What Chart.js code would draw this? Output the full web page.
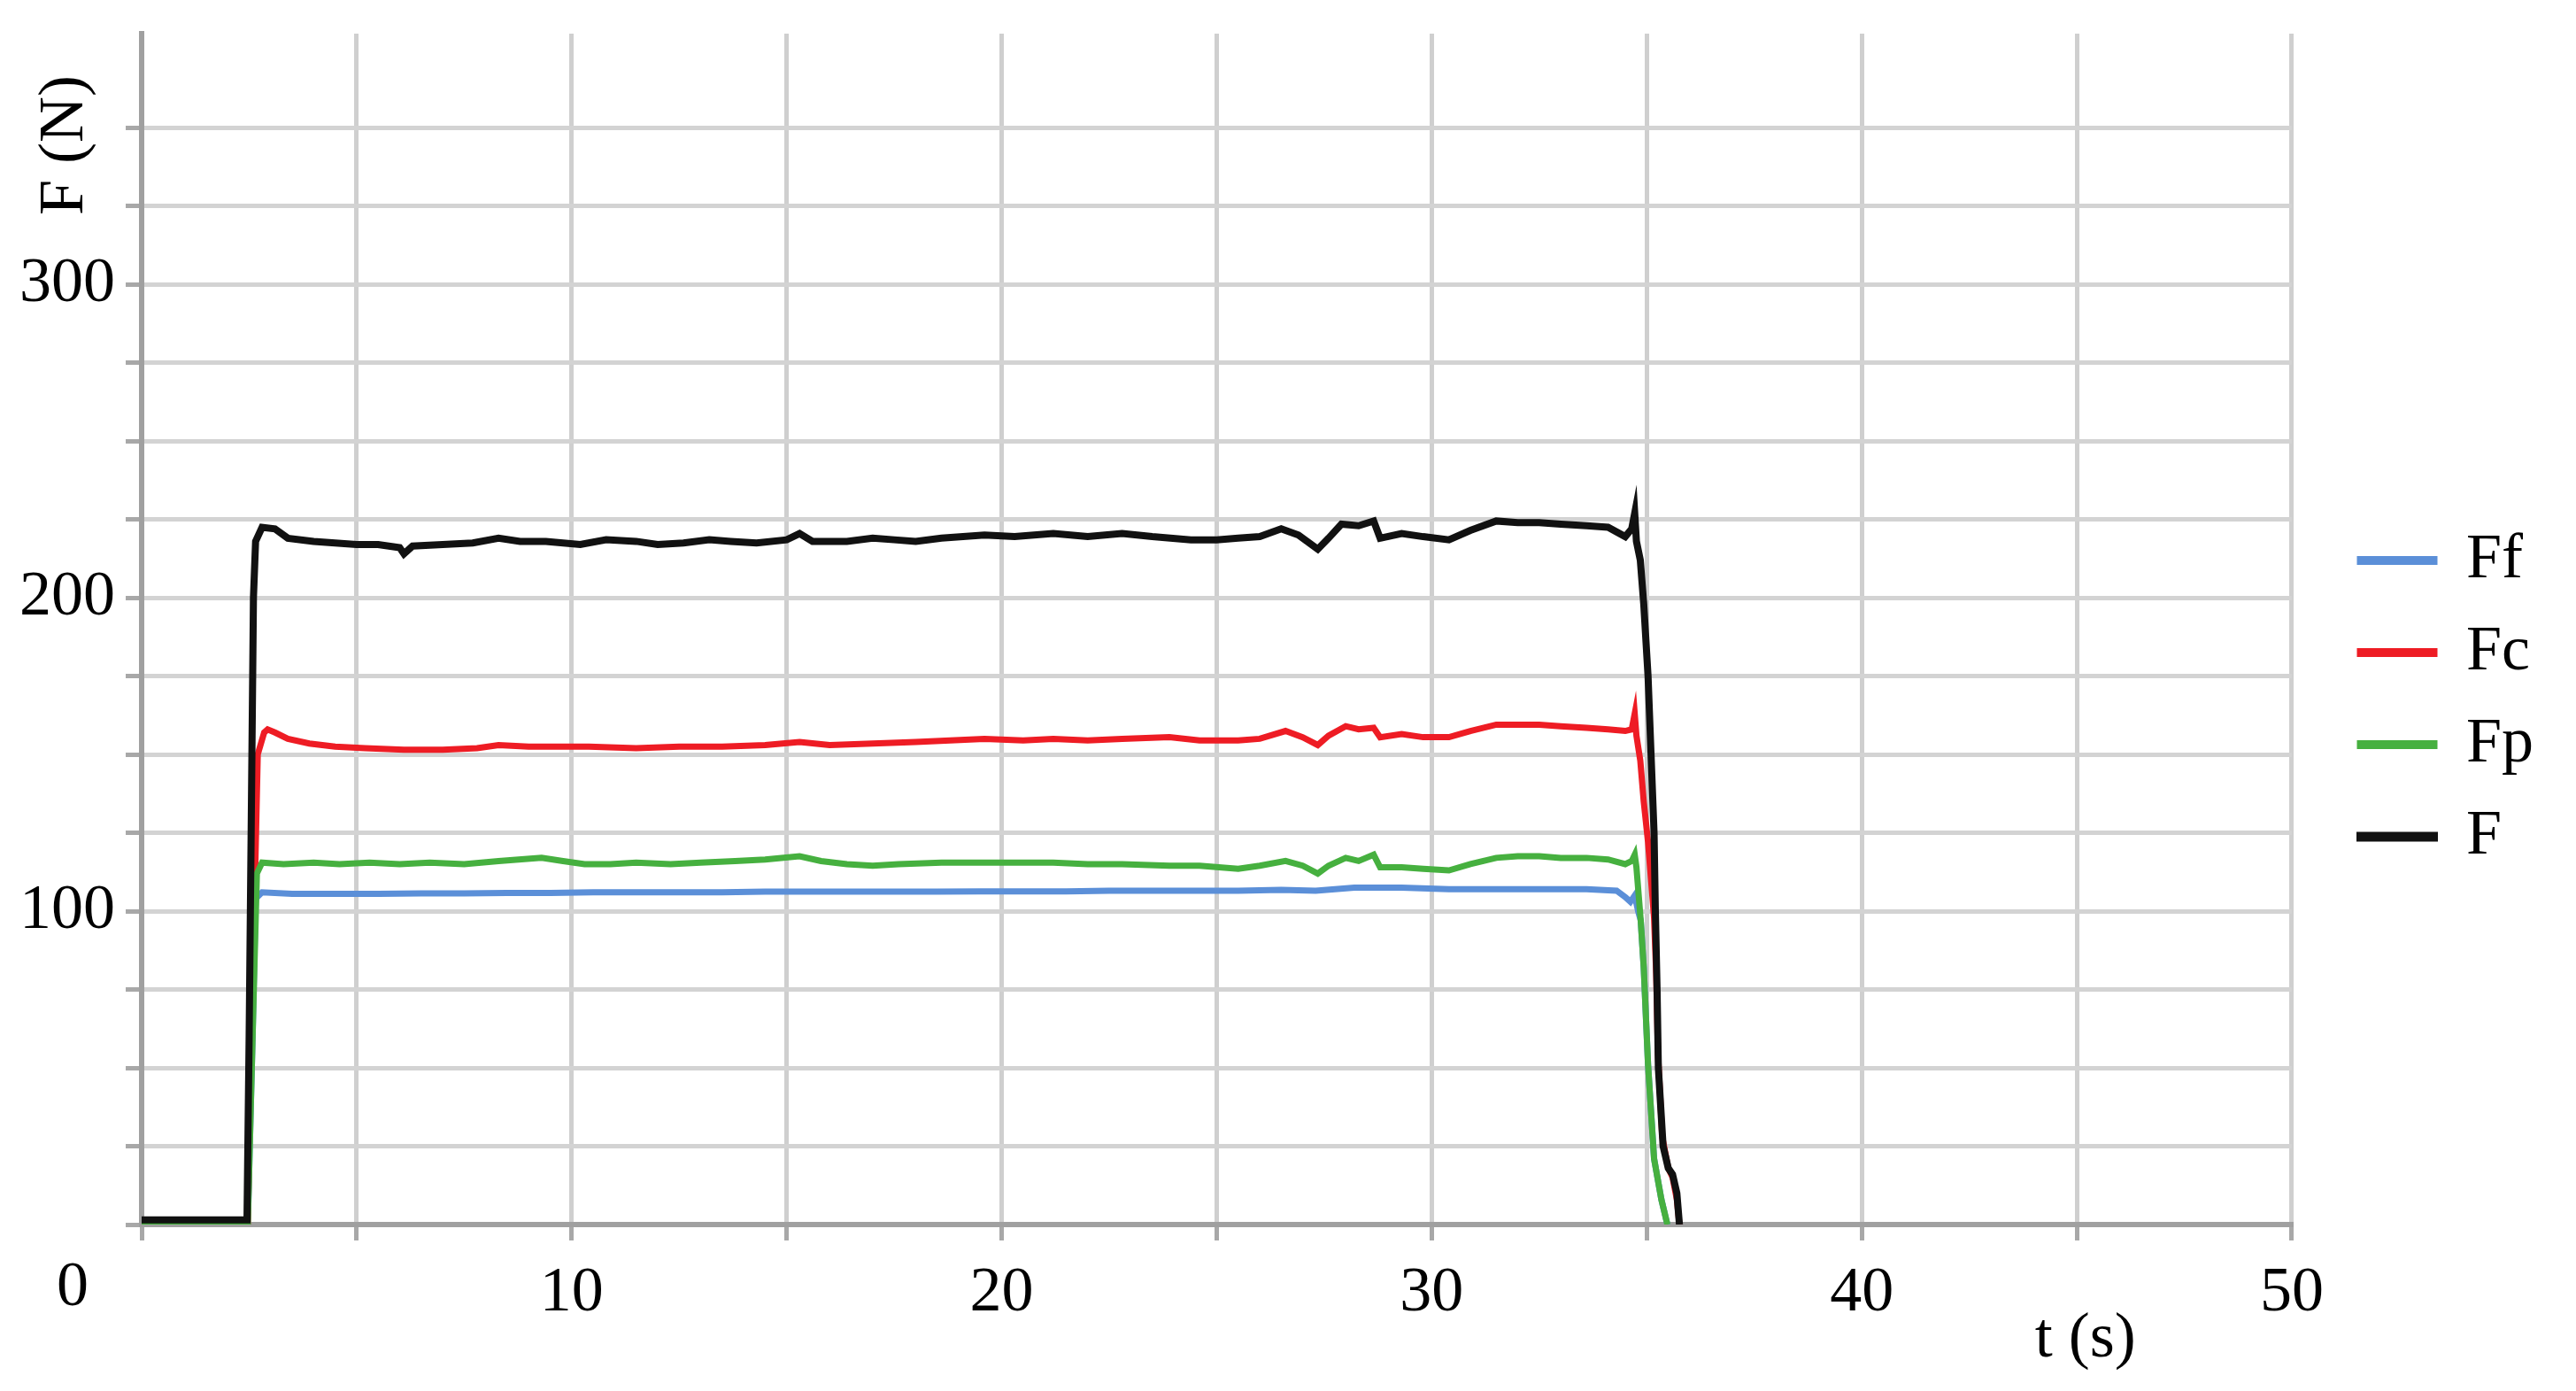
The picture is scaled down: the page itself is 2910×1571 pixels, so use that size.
<!DOCTYPE html>
<html lang="en">
<head>
<meta charset="UTF-8">
<title>F (N) vs t (s)</title>
<style>
    body { margin: 0; background: #ffffff; }
    #wrap { width: 2910px; height: 1571px; }
</style>
</head>
<body>
<div id="wrap"><canvas id="forceChart" width="2910" height="1571"></canvas></div>
<script src="https://cdn.jsdelivr.net/npm/chart.js"></script>
<script>
// values: time (s) and force (N) per series
const tFf = [0, 2.47, 2.58, 2.65, 2.8, 3.5, 4.5, 5.5, 6.5, 7.5, 8.5, 9.5, 10.5, 11.5, 12.5, 13.5, 14.5, 15.5, 16.5, 17.5, 18.5, 19.5, 20.5, 21.5, 22.5, 23.5, 24.5, 25.5, 26.5, 27.3, 28.2, 29.3, 30.4, 31.5, 32.5, 33.6, 34.3, 34.5, 34.62, 34.72, 34.8, 34.86, 34.93, 35.03, 35.17, 35.34, 35.48];
const Ff = [1, 1, 60, 104, 106, 105.5, 105.5, 105.5, 105.7, 105.7, 105.8, 105.8, 106, 106, 106, 106, 106.2, 106.2, 106.2, 106.2, 106.2, 106.3, 106.3, 106.3, 106.5, 106.5, 106.5, 106.5, 106.8, 106.5, 107.5, 107.5, 107, 107, 107, 107, 106.5, 104.5, 103, 105, 100, 97, 82, 51, 21, 8, 0];

const tFc = [0, 2.47, 2.55, 2.62, 2.7, 2.85, 2.93, 3.1, 3.4, 3.9, 4.5, 5.2, 6.1, 7.0, 7.8, 8.3, 9.0, 10.4, 11.5, 12.5, 13.5, 14.5, 15.3, 16.0, 17.0, 18.0, 18.8, 19.6, 20.5, 21.2, 22.0, 22.8, 23.9, 24.6, 25.5, 26.0, 26.6, 27.0, 27.35, 27.6, 28.0, 28.3, 28.65, 28.8, 29.3, 29.8, 30.4, 30.9, 31.5, 32.0, 32.5, 33.0, 33.6, 34.1, 34.5, 34.65, 34.72, 34.76, 34.85, 34.93, 35.03, 35.1, 35.17, 35.22, 35.26, 35.36, 35.5, 35.6, 35.7, 35.76];
const Fc = [1, 1, 60, 100, 150, 157, 158, 157, 155, 153.5, 152.5, 152, 151.5, 151.5, 152, 153, 152.5, 152.5, 152, 152.5, 152.5, 153, 154, 153, 153.5, 154, 154.5, 155, 154.5, 155, 154.5, 155, 155.5, 154.5, 154.5, 155, 157.5, 155.5, 153, 156, 159, 158, 158.5, 155.5, 156.5, 155.5, 155.5, 157.5, 159.5, 159.5, 159.5, 159, 158.5, 158, 157.5, 158, 163, 156, 148, 135, 122, 110, 98, 80, 55, 28, 18, 15, 8, 0];

const tFp = [0, 2.47, 2.58, 2.68, 2.8, 3.3, 4.0, 4.6, 5.3, 6.0, 6.7, 7.5, 8.3, 9.3, 9.8, 10.3, 10.9, 11.5, 12.3, 13.0, 13.8, 14.5, 15.3, 15.8, 16.4, 17.0, 17.6, 18.6, 19.5, 20.5, 21.2, 22.0, 22.8, 23.9, 24.6, 25.5, 26.0, 26.6, 27.0, 27.35, 27.6, 28.0, 28.3, 28.65, 28.8, 29.3, 29.8, 30.4, 30.9, 31.5, 32.0, 32.5, 33.0, 33.6, 34.1, 34.5, 34.65, 34.72, 34.76, 34.86, 34.93, 35.03, 35.17, 35.34, 35.48];
const Fp = [1, 1, 60, 112, 115.5, 115, 115.5, 115, 115.5, 115, 115.5, 115, 116, 117, 116, 115, 115, 115.5, 115, 115.5, 116, 116.5, 117.5, 116, 115, 114.5, 115, 115.5, 115.5, 115.5, 115.5, 115, 115, 114.5, 114.5, 113.5, 114.5, 116, 114.5, 112, 114.5, 117, 116, 118, 114, 114, 113.5, 113, 115, 117, 117.5, 117.5, 117, 117, 116.5, 115, 116, 118, 114, 97, 82, 51, 21, 8, 0];

const tF = [0, 2.45, 2.5, 2.55, 2.6, 2.65, 2.8, 3.1, 3.4, 4.0, 4.5, 5.0, 5.5, 6.0, 6.1, 6.3, 7.0, 7.7, 8.3, 8.8, 9.4, 10.2, 10.8, 11.5, 12.0, 12.6, 13.2, 13.7, 14.3, 15.0, 15.3, 15.6, 16.4, 17.0, 17.5, 18.0, 18.6, 19.6, 20.3, 21.2, 22.0, 22.8, 23.5, 24.4, 25.0, 25.5, 26.0, 26.5, 26.9, 27.35, 27.6, 27.9, 28.3, 28.65, 28.8, 29.3, 29.8, 30.4, 30.9, 31.5, 32.0, 32.5, 33.0, 33.6, 34.1, 34.5, 34.65, 34.72, 34.76, 34.85, 34.93, 35.03, 35.1, 35.17, 35.2, 35.24, 35.27, 35.38, 35.5, 35.6, 35.7, 35.76];
const F = [1.5, 1.5, 60, 130, 200, 218, 222.5, 222, 219, 218, 217.5, 217, 217, 216, 214, 216.5, 217, 217.5, 219, 218, 218, 217, 218.5, 218, 217, 217.5, 218.5, 218, 217.5, 218.5, 220.5, 218, 218, 219, 218.5, 218, 219, 220, 219.5, 220.5, 219.5, 220.5, 219.5, 218.5, 218.5, 219, 219.5, 222, 220, 215.5, 219, 223.5, 223, 224.5, 219, 220.5, 219.5, 218.5, 221.5, 224.5, 224, 224, 223.5, 223, 222.5, 219.5, 222, 227, 218, 212, 198, 175, 150, 125, 100, 75, 50, 25, 18, 16, 10, 0];

const seriesNames = ['Ff', 'Fc', 'Fp', 'F'];
const xLabelled = [10, 20, 30, 40, 50];
const yLabelled = [100, 200, 300];

// look
const SERIF = '"Liberation Serif", "Times New Roman", serif';
const FONT_PX = 72;
const LEGEND_X = 2666;      // start of the first legend line sample
const LEGEND_ROW0 = 633;    // centre of the first legend row

function pts(ts, vs) {
    return ts.map((t, i) => ({ x: t, y: vs[i] }));
}

const extras = {
    id: 'extras',
    afterLayout(chart) {
        const lg = chart.legend;
        if (!lg) return;
        const pad = lg.options.labels.padding;
        const left = LEGEND_X - pad;
        const top = LEGEND_ROW0 - pad - FONT_PX / 2;
        lg.left = left; lg.right = left + lg.width;
        lg.top = top; lg.bottom = top + lg.height;
    },
    afterDraw(chart) {
        const ctx = chart.ctx;
        const xs = chart.scales.x;
        ctx.save();
        ctx.fillStyle = '#000';
        ctx.font = FONT_PX + 'px ' + SERIF;
        ctx.textAlign = 'center';
        ctx.textBaseline = 'middle';
        // origin label sits left of the axis
        ctx.fillText('0', xs.getPixelForValue(0) - 78, 1455);
        // x title
        ctx.fillText('t (s)', xs.getPixelForValue(45.2), 1513);
        // y title, rotated, near the top
        ctx.translate(74, 164);
        ctx.rotate(-Math.PI / 2);
        ctx.fillText('F (N)', 0, 0);
        ctx.restore();
    }
};

const colors = ['#5b8fd8', '#ee1c24', '#46b03f', '#111111'];
const widths = [7, 7, 7, 8];
const seriesPts = [pts(tFf, Ff), pts(tFc, Fc), pts(tFp, Fp), pts(tF, F)];

new Chart(document.getElementById('forceChart'), {
    type: 'line',
    data: {
        datasets: seriesNames.map((name, i) => ({
            label: name,
            data: seriesPts[i],
            borderColor: colors[i],
            backgroundColor: colors[i],
            borderWidth: widths[i],
            pointRadius: 0,
            tension: 0,
            order: 3 - i
        }))
    },
    options: {
        responsive: false,
        animation: false,
        layout: { padding: { top: 38, right: 83, left: 0, bottom: 0 } },
        plugins: {
            legend: {
                position: 'right',
                align: 'start',
                labels: {
                    boxWidth: 84,
                    boxHeight: 3,
                    padding: 32,
                    color: '#000',
                    font: { family: SERIF, size: FONT_PX },
                    sort: (a, b) => a.datasetIndex - b.datasetIndex
                }
            },
            tooltip: { enabled: false }
        },
        scales: {
            x: {
                type: 'linear',
                min: 0,
                max: 50,
                afterFit(scale) { scale.height = 188; scale.paddingRight = 0; scale.paddingLeft = 0; },
                ticks: {
                    stepSize: 5,
                    autoSkip: false,
                    maxRotation: 0,
                    padding: 17,
                    color: '#000',
                    font: { family: SERIF, size: FONT_PX },
                    callback: (v) => xLabelled.includes(v) ? String(v) : ''
                },
                grid: {
                    color: '#cfcfcf',
                    lineWidth: 5,
                    tickLength: 18,
                    tickColor: '#a8a8a8',
                    tickWidth: 5
                },
                border: { color: '#a0a0a0', width: 6 }
            },
            y: {
                min: 0,
                max: 380,
                afterFit(scale) { scale.width = 160; scale.paddingTop = 0; scale.paddingBottom = 0; },
                ticks: {
                    stepSize: 25,
                    autoSkip: false,
                    padding: 12,
                    color: '#000',
                    font: { family: SERIF, size: FONT_PX },
                    callback: (v) => yLabelled.includes(v) ? String(v) : ''
                },
                grid: {
                    color: (c) => (c.tick && c.tick.value % 25 === 0) ? '#d3d3d3' : 'rgba(0,0,0,0)',
                    lineWidth: 5,
                    tickLength: 18,
                    tickColor: (c) => (c.tick && c.tick.value % 25 === 0) ? '#a8a8a8' : 'rgba(0,0,0,0)',
                    tickWidth: 5
                },
                border: { color: '#a0a0a0', width: 6 }
            }
        }
    },
    plugins: [extras]
});
</script>
</body>
</html>
